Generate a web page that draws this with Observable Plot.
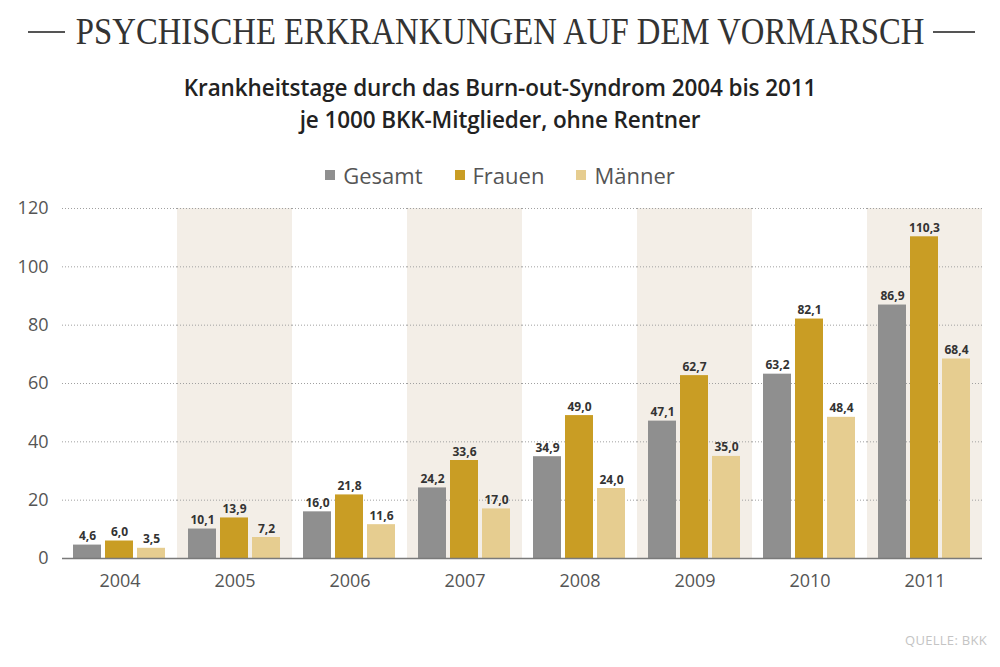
<!DOCTYPE html>
<html><head><meta charset="utf-8">
<script src="https://cdn.jsdelivr.net/npm/d3@7"></script>
<script src="https://cdn.jsdelivr.net/npm/@observablehq/plot@0.6"></script>
<style>
body{margin:0;background:#fff;width:1000px;height:667px;position:relative;font-family:"Open Sans",sans-serif;overflow:hidden}
.dash{position:absolute;height:1.6px;background:#555;top:31px}
#title{position:absolute;left:0;width:1000px;top:8px;text-align:center;font-family:"Liberation Serif",serif;font-size:38.5px;color:#333;line-height:46px;white-space:nowrap}
#title span{display:inline-block;transform:scaleX(0.85);transform-origin:center}
#sub{position:absolute;left:0;width:1000px;top:72px;text-align:center;font-weight:600;font-size:22.5px;line-height:32px;color:#222;letter-spacing:-0.1px}
#legend{position:absolute;left:0;width:1000px;top:160px;display:flex;justify-content:center;align-items:center;font-size:22px;color:#555;line-height:30px}
#legend .item{display:flex;align-items:center;margin:0 16px}
#legend .sw{width:10px;height:10px;margin-right:8px}
#chart{position:absolute;left:0;top:195px}
#src{position:absolute;right:13px;top:631px;font-size:13px;color:#c4c4c4;letter-spacing:0.3px}
</style></head><body>
<div class="dash" style="left:28px;width:37px"></div>
<div class="dash" style="left:933px;width:42px"></div>
<div id="title"><span>PSYCHISCHE ERKRANKUNGEN AUF DEM VORMARSCH</span></div>
<div id="sub">Krankheitstage durch das Burn-out-Syndrom 2004 bis 2011<br>je 1000 BKK-Mitglieder, ohne Rentner</div>
<div id="legend"></div>
<div id="chart"></div>
<div id="src">QUELLE: BKK</div>
<script>
const years = ["2004","2005","2006","2007","2008","2009","2010","2011"];
const series = ["Gesamt","Frauen","Männer"];
const gesamt = [4.6,10.1,16.0,24.2,34.9,47.1,63.2,86.9];
const frauen = [6.0,13.9,21.8,33.6,49.0,62.7,82.1,110.3];
const maenner = [3.5,7.2,11.6,17.0,24.0,35.0,48.4,68.4];
const shadedYears = ["2005","2007","2009","2011"];
const yTicks = [0,20,40,60,80,100,120];
const colors = ["#8f8f8f","#c99d24","#e6cd90"];

const values = [gesamt, frauen, maenner];
const data = [];
years.forEach((yr, i) => series.forEach((s, j) => data.push({year: yr, series: s, value: values[j][i]})));

const legend = document.getElementById("legend");
series.forEach((s, j) => {
  const it = document.createElement("div"); it.className = "item";
  const sw = document.createElement("div"); sw.className = "sw"; sw.style.background = colors[j];
  const t = document.createElement("span"); t.textContent = s;
  it.appendChild(sw); it.appendChild(t); legend.appendChild(it);
});

const chart = Plot.plot({
  width: 1000, height: 408,
  marginTop: 13, marginBottom: 45, marginLeft: 62, marginRight: 18,
  style: {fontFamily: "'Open Sans', sans-serif", background: "transparent"},
  fx: {domain: years, padding: 0, label: null},
  x: {domain: series, paddingInner: 0.11, paddingOuter: 0.32, axis: null},
  y: {domain: [0, 120]},
  color: {domain: series, range: colors},
  marks: [
    Plot.rect(shadedYears, {fx: d => d, y1: 0, y2: 120, fill: "#f3eee7"}),
    Plot.gridY(yTicks.slice(1), {stroke: "#a0a0a0", strokeOpacity: 1, strokeDasharray: "1,2"}),
    Plot.barY(data, {fx: "year", x: "series", y: "value", fill: "series"}),
    Plot.ruleY([0], {stroke: "#7a7a7a", strokeWidth: 1.5}),
    Plot.text(data, {fx: "year", x: "series", y: "value", text: d => d.value.toFixed(1).replace(".", ","), lineAnchor: "bottom", dy: -5, fontWeight: "bold", fontSize: 12, fill: "#333"}),
    Plot.axisY(yTicks, {tickSize: 0, tickPadding: 14, fontSize: 18, color: "#555", label: null}),
    Plot.axisFx({anchor: "bottom", tickSize: 0, tickPadding: 16, fontSize: 18, color: "#555", label: null})
  ]
});
document.getElementById("chart").appendChild(chart);
</script>
</body></html>
